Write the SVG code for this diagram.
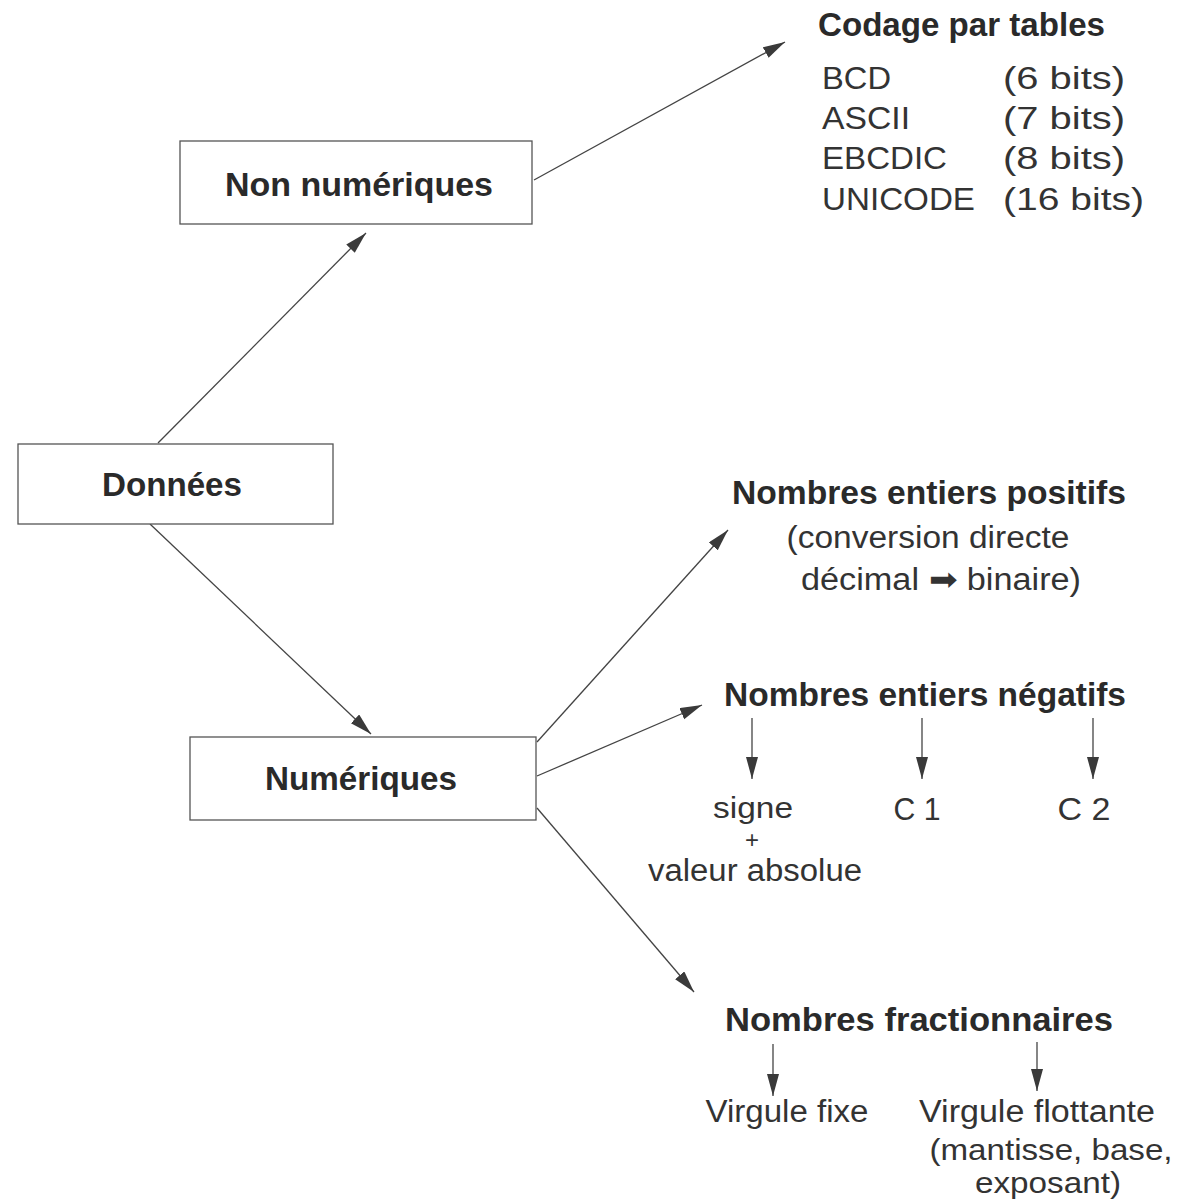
<svg xmlns="http://www.w3.org/2000/svg" width="1183" height="1199" viewBox="0 0 1183 1199">
<style>
.box{fill:#fff;stroke:#555;stroke-width:1.3}
.b{font-family:"Liberation Sans",Arial,sans-serif;font-weight:bold;fill:#2a2a2a}
.r{font-family:"Liberation Sans",Arial,sans-serif;fill:#333}
.c{stroke:#444;stroke-width:1.3;fill:none;marker-end:url(#ah)}
</style>
<defs>
<marker id="ah" markerUnits="userSpaceOnUse" markerWidth="24" markerHeight="14" refX="22" refY="6" orient="auto" viewBox="0 0 24 14">
<path d="M0,0 L22,6 L0,12 z" fill="#3a3a3a"/>
</marker>
</defs>
<rect width="1183" height="1199" fill="#fff"/>
<g id="connectors">
<line class="c" x1="534" y1="180" x2="785" y2="42"/>
<line class="c" x1="158" y1="443" x2="366" y2="233"/>
<line class="c" x1="150" y1="524" x2="371" y2="734"/>
<line class="c" x1="537" y1="742" x2="728" y2="530"/>
<line class="c" x1="537" y1="776" x2="702" y2="705"/>
<line class="c" x1="537" y1="808" x2="694" y2="992"/>
<line class="c" x1="752" y1="718" x2="752" y2="779"/>
<line class="c" x1="922" y1="718" x2="922" y2="779"/>
<line class="c" x1="1093" y1="718" x2="1093" y2="779"/>
<line class="c" x1="773" y1="1044" x2="773" y2="1096"/>
<line class="c" x1="1037" y1="1042" x2="1037" y2="1091"/>
</g>
<g id="node-non-numeriques">
<rect class="box" x="180" y="141" width="352" height="83"/>
<text class="b" x="359" y="196" font-size="33" text-anchor="middle" textLength="268" lengthAdjust="spacingAndGlyphs">Non  numériques</text>
</g>
<g id="node-codage">
<text class="b" x="818" y="36" font-size="33" textLength="287" lengthAdjust="spacingAndGlyphs">Codage par tables</text>
<g class="r" font-size="31">
<text x="822" y="89" textLength="69" lengthAdjust="spacingAndGlyphs">BCD</text>
<text x="822" y="129" textLength="88" lengthAdjust="spacingAndGlyphs">ASCII</text>
<text x="822" y="169" textLength="125" lengthAdjust="spacingAndGlyphs">EBCDIC</text>
<text x="822" y="210" textLength="153" lengthAdjust="spacingAndGlyphs">UNICODE</text>
<text x="1003" y="89" textLength="122" lengthAdjust="spacingAndGlyphs">(6 bits)</text>
<text x="1003" y="129" textLength="122" lengthAdjust="spacingAndGlyphs">(7 bits)</text>
<text x="1003" y="169" textLength="122" lengthAdjust="spacingAndGlyphs">(8 bits)</text>
<text x="1003" y="210" textLength="141" lengthAdjust="spacingAndGlyphs">(16 bits)</text>
</g>
</g>
<g id="node-donnees">
<rect class="box" x="18" y="444" width="315" height="80"/>
<text class="b" x="172" y="496" font-size="33" text-anchor="middle" textLength="140" lengthAdjust="spacingAndGlyphs">Données</text>
</g>
<g id="node-numeriques">
<rect class="box" x="190" y="737" width="346" height="83"/>
<text class="b" x="361" y="790" font-size="33" text-anchor="middle" textLength="192" lengthAdjust="spacingAndGlyphs">Numériques</text>
</g>
<g id="node-positifs">
<text class="b" x="929" y="504" font-size="33" text-anchor="middle" textLength="394" lengthAdjust="spacingAndGlyphs">Nombres entiers positifs</text>
<text class="r" x="928" y="548" font-size="31" text-anchor="middle" textLength="283" lengthAdjust="spacingAndGlyphs">(conversion directe</text>
<text class="r" x="941" y="590" font-size="31" text-anchor="middle" textLength="280" lengthAdjust="spacingAndGlyphs">décimal ➡ binaire)</text>
</g>
<g id="node-negatifs">
<text class="b" x="925" y="706" font-size="33" text-anchor="middle" textLength="402" lengthAdjust="spacingAndGlyphs">Nombres entiers négatifs</text>
<text class="r" x="753" y="818" font-size="30" text-anchor="middle" textLength="80" lengthAdjust="spacingAndGlyphs">signe</text>
<text class="r" x="752" y="848" font-size="24" text-anchor="middle">+</text>
<text class="r" x="755" y="881" font-size="31" text-anchor="middle" textLength="214" lengthAdjust="spacingAndGlyphs">valeur absolue</text>
<text class="r" x="917" y="820" font-size="31" text-anchor="middle" textLength="47" lengthAdjust="spacingAndGlyphs">C 1</text>
<text class="r" x="1084" y="820" font-size="31" text-anchor="middle" textLength="53" lengthAdjust="spacingAndGlyphs">C 2</text>
</g>
<g id="node-fractionnaires">
<text class="b" x="919" y="1031" font-size="33" text-anchor="middle" textLength="388" lengthAdjust="spacingAndGlyphs">Nombres  fractionnaires</text>
<text class="r" x="787" y="1122" font-size="31" text-anchor="middle" textLength="163" lengthAdjust="spacingAndGlyphs">Virgule fixe</text>
<text class="r" x="1037" y="1122" font-size="31" text-anchor="middle" textLength="236" lengthAdjust="spacingAndGlyphs">Virgule flottante</text>
<text class="r" x="1051" y="1160" font-size="30" text-anchor="middle" textLength="243" lengthAdjust="spacingAndGlyphs">(mantisse, base,</text>
<text class="r" x="1048" y="1193" font-size="30" text-anchor="middle" textLength="146" lengthAdjust="spacingAndGlyphs">exposant)</text>
</g>
</svg>
